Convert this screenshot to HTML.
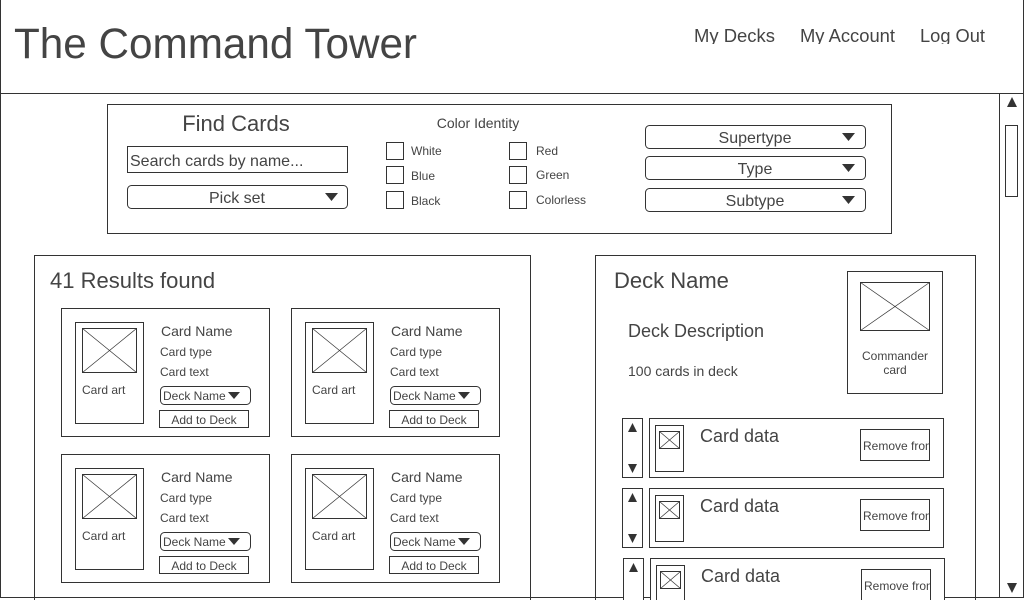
<!DOCTYPE html>
<html><head><meta charset="utf-8"><style>
html,body{margin:0;padding:0;background:#fff;width:1024px;height:600px;overflow:hidden}
svg{display:block}
text{font-family:"Liberation Sans",Arial,sans-serif;fill:#444}
.b{fill:none;stroke:#333;stroke-width:1}
.w{fill:#fff;stroke:#333;stroke-width:1}
.x{stroke:#333;stroke-width:0.7}
.t{fill:#333}
</style></head><body>
<svg width="1024" height="600" viewBox="0 0 1024 600" xmlns="http://www.w3.org/2000/svg">
<defs>
<g id="card">
  <rect class="b" x="0.5" y="0.5" width="208" height="128"/>
  <rect class="b" x="14.5" y="14.5" width="68" height="101"/>
  <rect class="b" x="21.5" y="20.5" width="54" height="44"/>
  <line class="x" x1="21.5" y1="20.5" x2="75.5" y2="64.5"/><line class="x" x1="75.5" y1="20.5" x2="21.5" y2="64.5"/>
  <text x="21" y="86" font-size="12">Card art</text>
  <text x="100" y="28" font-size="14">Card Name</text>
  <text x="99" y="48" font-size="12">Card type</text>
  <text x="99" y="68" font-size="12">Card text</text>
  <rect class="b" x="99.5" y="78.5" width="90" height="18" rx="4"/>
  <text x="102" y="92" font-size="12">Deck Name</text>
  <path class="t" d="M167 84h12l-6 7z"/>
  <rect class="b" x="98.5" y="102.5" width="89" height="17"/>
  <text x="143" y="116" font-size="12" text-anchor="middle">Add to Deck</text>
</g>
<g id="row">
  <rect class="w" x="0.5" y="0.5" width="20" height="59"/>
  <path class="t" d="M6 14h9l-4.5-9z M6 46h9l-4.5 9z"/>
  <rect class="w" x="27.5" y="0.5" width="294" height="59"/>
  <rect class="b" x="33.5" y="7.5" width="28" height="46"/>
  <rect class="b" x="37.5" y="13.5" width="20" height="17"/>
  <line class="x" x1="37.5" y1="13.5" x2="57.5" y2="30.5"/><line class="x" x1="57.5" y1="13.5" x2="37.5" y2="30.5"/>
  <text x="78" y="24" font-size="18">Card data</text>
  <rect class="b" x="238.5" y="11.5" width="69" height="31"/>
  <svg x="239" y="12" width="68" height="30"><text x="2" y="20" font-size="12">Remove from deck</text></svg>
</g>
</defs>

<line class="b" x1="0.5" y1="0" x2="0.5" y2="598"/>
<line class="b" x1="1023.5" y1="0" x2="1023.5" y2="598"/>
<line class="b" x1="0" y1="93.5" x2="1024" y2="93.5"/>
<line class="b" x1="0" y1="597.5" x2="1024" y2="597.5"/>

<text x="14" y="58" font-size="43" textLength="403" lengthAdjust="spacingAndGlyphs">The Command Tower</text>
<svg x="680" y="0" width="330" height="44">
<text x="14" y="42" font-size="18" textLength="81" lengthAdjust="spacingAndGlyphs">My Decks</text>
<text x="120" y="42" font-size="18" textLength="95" lengthAdjust="spacingAndGlyphs">My Account</text>
<text x="240" y="42" font-size="18" textLength="65" lengthAdjust="spacingAndGlyphs">Log Out</text>
</svg>

<rect class="b" x="999.5" y="93.5" width="24" height="504"/>
<path class="t" d="M1007 107h10l-5-10z M1007 583h10l-5 10z"/>
<rect class="b" x="1005.5" y="125.5" width="12" height="71"/>

<rect class="b" x="107.5" y="104.5" width="784" height="129"/>
<text x="236" y="131" font-size="22" text-anchor="middle">Find Cards</text>
<rect class="b" x="127.5" y="146.5" width="220" height="26"/>
<text x="130" y="166" font-size="16">Search cards by name...</text>
<rect class="b" x="127.5" y="185.5" width="220" height="23" rx="4"/>
<text x="237" y="203" font-size="16" text-anchor="middle">Pick set</text>
<path class="t" d="M325 193h13l-6.5 8z"/>
<text x="478" y="128" font-size="14" text-anchor="middle">Color Identity</text>
<rect class="b" x="386.5" y="142.5" width="17" height="17"/><text x="411" y="155" font-size="12">White</text>
<rect class="b" x="386.5" y="166.5" width="17" height="17"/><text x="411" y="180" font-size="12">Blue</text>
<rect class="b" x="386.5" y="191.5" width="17" height="17"/><text x="411" y="205" font-size="12">Black</text>
<rect class="b" x="509.5" y="142.5" width="17" height="17"/><text x="536" y="155" font-size="12">Red</text>
<rect class="b" x="509.5" y="166.5" width="17" height="17"/><text x="536" y="179" font-size="12">Green</text>
<rect class="b" x="509.5" y="191.5" width="17" height="17"/><text x="536" y="204" font-size="12">Colorless</text>
<rect class="b" x="645.5" y="125.5" width="220" height="23" rx="4"/>
<text x="755" y="143" font-size="16" text-anchor="middle">Supertype</text>
<path class="t" d="M842 133h13l-6.5 8z"/>
<rect class="b" x="645.5" y="156.5" width="220" height="23" rx="4"/>
<text x="755" y="174" font-size="16" text-anchor="middle">Type</text>
<path class="t" d="M842 164h13l-6.5 8z"/>
<rect class="b" x="645.5" y="188.5" width="220" height="23" rx="4"/>
<text x="755" y="206" font-size="16" text-anchor="middle">Subtype</text>
<path class="t" d="M842 196h13l-6.5 8z"/>

<rect class="b" x="34.5" y="255.5" width="496" height="345"/>
<text x="50" y="288" font-size="22">41 Results found</text>
<use href="#card" x="61" y="308"/>
<use href="#card" x="291" y="308"/>
<use href="#card" x="61" y="454"/>
<use href="#card" x="291" y="454"/>

<rect class="b" x="595.5" y="255.5" width="380" height="345"/>
<text x="614" y="288" font-size="22">Deck Name</text>
<text x="628" y="337" font-size="18">Deck Description</text>
<text x="628" y="376" font-size="14">100 cards in deck</text>
<rect class="b" x="847.5" y="271.5" width="95" height="122"/>
<rect class="b" x="860.5" y="282.5" width="69" height="48"/>
<line class="x" x1="860.5" y1="282.5" x2="929.5" y2="330.5"/><line class="x" x1="929.5" y1="282.5" x2="860.5" y2="330.5"/>
<text x="895" y="360" font-size="12" text-anchor="middle">Commander</text>
<text x="895" y="374" font-size="12" text-anchor="middle">card</text>
<use href="#row" x="622" y="418"/>
<use href="#row" x="622" y="488"/>
<use href="#row" x="623" y="558"/>
</svg>
</body></html>
